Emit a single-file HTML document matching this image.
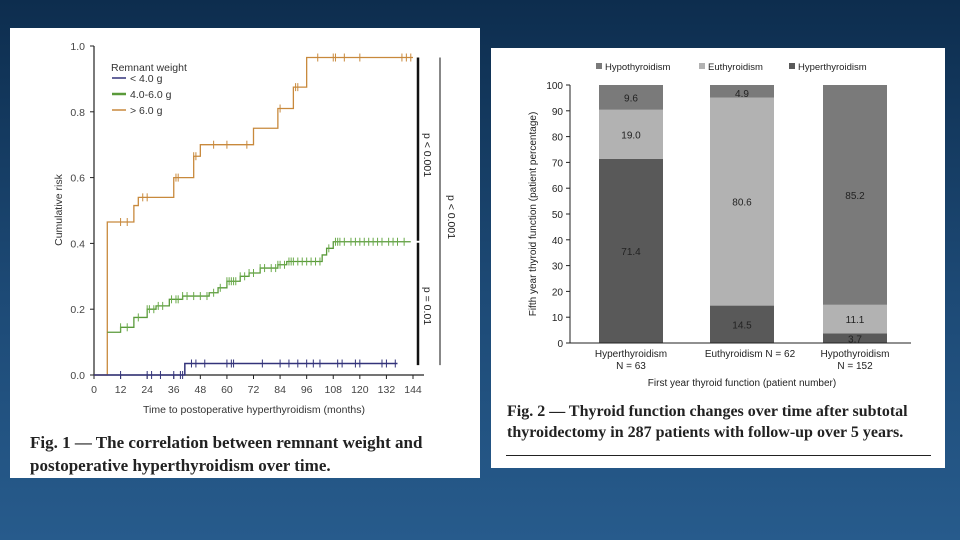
<!DOCTYPE html>
<html><head><meta charset="utf-8">
<style>
html,body{margin:0;padding:0}
body{width:960px;height:540px;overflow:hidden;background:linear-gradient(180deg,#0d2d4e 0%,#1d4a76 55%,#275b8c 100%);font-family:"Liberation Sans",sans-serif;position:relative}
.panel{position:absolute;background:#fff}
.cap{position:absolute;font-family:"Liberation Serif",serif;font-weight:bold;font-size:17px;line-height:23px;color:#222;white-space:nowrap}
svg text{font-family:"Liberation Sans",sans-serif}
</style></head><body>
<div class="panel" style="left:10px;top:28px;width:470px;height:450px">
<svg id="km" width="470" height="450"></svg>
<div class="cap" style="left:20px;top:403px">Fig. 1 — The correlation between remnant weight and<br>postoperative hyperthyroidism over time.</div>
</div>
<div class="panel" style="left:491px;top:48px;width:454px;height:420px">
<svg id="bar" width="454" height="420"></svg>
<div class="cap" style="left:16px;top:353px;font-size:16px;line-height:21px">Fig. 2 — Thyroid function changes over time after subtotal<br>thyroidectomy in 287 patients with follow-up over 5 years.</div>
<div style="position:absolute;left:15px;top:407px;width:425px;height:1px;background:#222"></div>
</div>
<script>
// ---- Figure 1 data ----
const kmXTicks=[0,12,24,36,48,60,72,84,96,108,120,132,144];
const kmYTicks=[0.0,0.2,0.4,0.6,0.8,1.0];
const orangeT=[0,6,18,20,36,45,48,72,83,90,96,144];
const orangeY=[0,0.465,0.515,0.54,0.60,0.665,0.70,0.75,0.81,0.875,0.965,0.965];
const orangeCens=[12,15,22,24,37,38,45,46,54,60,69,84,91,92,101,108,109,113,120,139,141,143];
const greenT=[6,12,18,24,28,34,40,52,56,60,66,70,75,83,87,103,105,108,143];
const greenY=[0.13,0.145,0.175,0.20,0.21,0.23,0.24,0.25,0.265,0.285,0.30,0.31,0.325,0.335,0.345,0.365,0.385,0.405,0.405];
const greenCens=[12,15,20,24,25,27,29,31,35,37,38,40,42,45,48,51,54,57,60,61,62,63,64,66,68,70,72,75,77,80,82,83,84,86,88,89,90,92,94,96,98,100,102,106,109,110,111,113,116,118,120,122,124,126,128,130,133,135,137,140];
const blueT=[0,41,137];
const blueY=[0,0.035,0.035];
const blueCens=[12,24,26,30,36,39,40,44,46,50,60,62,63,76,84,88,92,96,99,102,110,112,118,120,130,132,136];
const NS='http://www.w3.org/2000/svg';
function el(p,t,a){const e=document.createElementNS(NS,t);for(const k in a)e.setAttribute(k,a[k]);p.appendChild(e);return e;}
const km=document.getElementById('km');
const X0=84,X1=403,Y0=347,Y1=18;
const kx=v=>X0+(X1-X0)*v/144, ky=v=>Y0-(Y0-Y1)*v;
let a=el(km,'line',{x1:X0,y1:Y1,x2:X0,y2:Y0,stroke:'#222','stroke-width':1.2});

a=el(km,'line',{x1:X0,y1:Y0,x2:414,y2:Y0,stroke:'#222','stroke-width':1.2});

kmYTicks.forEach(v=>{el(km,'line',{x1:X0-4,y1:ky(v),x2:X0,y2:ky(v),stroke:'#222'});
 const t=el(km,'text',{x:X0-9,y:ky(v)+4,'text-anchor':'end','font-size':10.5,fill:'#444'});t.textContent=v.toFixed(1);
 });
kmXTicks.forEach(v=>{el(km,'line',{x1:kx(v),y1:Y0,x2:kx(v),y2:Y0+4,stroke:'#222'});
 const t=el(km,'text',{x:kx(v),y:Y0+18,'text-anchor':'middle','font-size':10.5,fill:'#444'});t.textContent=v;
 });
let t=el(km,'text',{x:244,y:385,'text-anchor':'middle','font-size':10.5,fill:'#333'});t.textContent='Time to postoperative hyperthyroidism (months)';

t=el(km,'text',{x:52,y:182,'text-anchor':'middle','font-size':10.5,fill:'#333',transform:'rotate(-90 52 182)'});t.textContent='Cumulative risk';

function step(T,Y,col,name,w){let d='M'+kx(T[0])+','+ky(Y[0]);for(let i=1;i<T.length;i++){d+='H'+kx(T[i])+'V'+ky(Y[i]);}
 const p=el(km,'path',{d:d,fill:'none',stroke:col,'stroke-width':w});}
function yAt(T,Y,x){let y=Y[0];for(let i=0;i<T.length;i++)if(T[i]<=x)y=Y[i];return y;}
function cens(T,Y,C,col,name){C.forEach(c=>{const y=ky(yAt(T,Y,c));const l=el(km,'line',{x1:kx(c),y1:y-4,x2:kx(c),y2:y+4,stroke:col,'stroke-width':1});
 });}
step(orangeT,orangeY,'#c8893c','orange-step-line',1.3);cens(orangeT,orangeY,orangeCens,'#c8893c','orange-censor');
step(greenT,greenY,'#5a9a3a','green-step-line',1.3);cens(greenT,greenY,greenCens,'#6aaa4a','green-censor');
step(blueT,blueY,'#33337a','blue-step-line',1.5);cens(blueT,blueY,blueCens,'#33337a','blue-censor');
// legend
t=el(km,'text',{x:101,y:43,'font-size':10.5,fill:'#333'});t.textContent='Remnant weight';
[['< 4.0 g','#33337a'],['4.0-6.0 g','#5a9a3a'],['> 6.0 g','#c8893c']].forEach((e,i)=>{const y=54+i*16;
 el(km,'line',{x1:102,y1:y-4,x2:116,y2:y-4,stroke:e[1],'stroke-width':i==1?2.5:1.5});
 const tt=el(km,'text',{x:120,y:y,'font-size':10.5,fill:'#333'});tt.textContent=e[0];});
// p-value brackets
a=el(km,'line',{x1:408,y1:ky(0.965),x2:408,y2:ky(0.03),stroke:'#111','stroke-width':2.5});
el(km,'line',{x1:406,y1:ky(0.405),x2:411,y2:ky(0.405),stroke:'#fff','stroke-width':2});
a=el(km,'line',{x1:430,y1:ky(0.965),x2:430,y2:ky(0.03),stroke:'#111','stroke-width':1});
[['p < 0.001',414,127],['p = 0.01',414,278],['p < 0.001',438,189]].forEach(p=>{const tt=el(km,'text',{x:p[1],y:p[2],'text-anchor':'middle','font-size':10.5,fill:'#222',transform:'rotate(90 '+p[1]+' '+p[2]+')'});tt.textContent=p[0];
 });

// ---- Figure 2 data ----
const barCats=[['Hyperthyroidism','N = 63'],['Euthyroidism N = 62'],['Hypothyroidism','N = 152']];
const hyperVals=[71.4,14.5,3.7];
const euthVals=[19.0,80.6,11.1];
const hypoVals=[9.6,4.9,85.2];
const barYTicks=[0,10,20,30,40,50,60,70,80,90,100];
const bs=document.getElementById('bar');
const BX0=79,BX1=420,BY0=295,BY1=37;
const by=v=>BY0-(BY0-BY1)*v/100;
const centers=[140,251,364],bw=64;
const cols={hyper:'#595959',euth:'#b2b2b2',hypo:'#7a7a7a'};
barCats.forEach((c,i)=>{let base=0;
 [['hyper',hyperVals[i]],['euth',euthVals[i]],['hypo',hypoVals[i]]].forEach(s=>{const top=Math.min(100,base+s[1]);
  const r=el(bs,'rect',{x:centers[i]-bw/2,y:by(top),width:bw,height:by(base)-by(top),fill:cols[s[0]]});
  
  const mid=(base+top)/2;const ty=s[1]<5?by(base)-0.5:by(mid)+4;
  const tt=el(bs,'text',{x:centers[i],y:ty,'text-anchor':'middle','font-size':10,fill:'#222'});tt.textContent=s[1].toFixed(1);
  
  base=top;});
 c.forEach((l,j)=>{const tt=el(bs,'text',{x:centers[i]+(c.length==1?8:0),y:BY0+14+j*12,'text-anchor':'middle','font-size':10,fill:'#222'});tt.textContent=l;
  });
});
a=el(bs,'line',{x1:BX0,y1:BY1,x2:BX0,y2:BY0,stroke:'#222'});
a=el(bs,'line',{x1:BX0,y1:BY0,x2:BX1,y2:BY0,stroke:'#222'});
barYTicks.forEach(v=>{el(bs,'line',{x1:BX0-4,y1:by(v),x2:BX0,y2:by(v),stroke:'#222'});
 const tt=el(bs,'text',{x:BX0-7,y:by(v)+4,'text-anchor':'end','font-size':10,fill:'#222'});tt.textContent=v;
 });
t=el(bs,'text',{x:251,y:338,'text-anchor':'middle','font-size':10,fill:'#222'});t.textContent='First year thyroid function (patient number)';

t=el(bs,'text',{x:45,y:166,'text-anchor':'middle','font-size':10,fill:'#222',transform:'rotate(-90 45 166)'});t.textContent='Fifth year thyroid function (patient percentage)';

[['Hypothyroidism',cols.hypo,105],['Euthyroidism',cols.euth,208],['Hyperthyroidism',cols.hyper,298]].forEach(l=>{
 el(bs,'rect',{x:l[2],y:15,width:6,height:6,fill:l[1]});
 const tt=el(bs,'text',{x:l[2]+9,y:22,'font-size':9.5,fill:'#222'});tt.textContent=l[0];
 });
</script>
</body></html>
